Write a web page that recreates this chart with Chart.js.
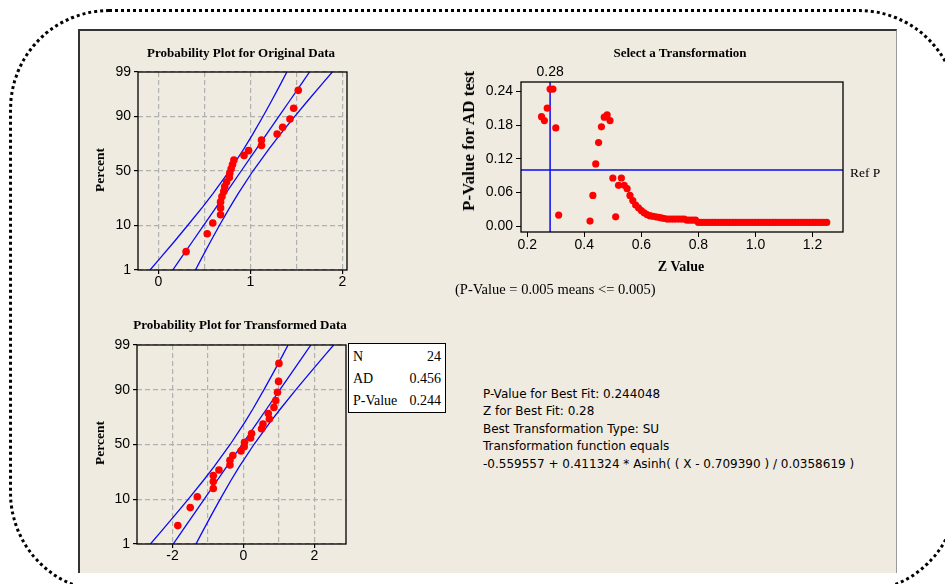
<!DOCTYPE html>
<html>
<head>
<meta charset="utf-8">
<script src="https://cdn.jsdelivr.net/npm/chart.js@4.4.1/dist/chart.umd.min.js"></script>
<style>
  body { margin: 0; width: 945px; height: 584px; background: #fff; position: relative; overflow: hidden; }
  .abs { position: absolute; }
  .ctr { position: absolute; transform: translate(-50%, -50%); white-space: nowrap; }
  .rot { position: absolute; transform: translate(-50%, -50%) rotate(-90deg); white-space: nowrap; }
  .ttl { font: bold 13px "Liberation Serif", serif; color: #000; }
  canvas { position: absolute; }
</style>
</head>
<body>
<div class="abs" style="left:9px;top:9px;width:950px;height:584px;box-sizing:border-box;border:3px dotted #000;border-radius:100px;"></div>
<div class="abs" style="left:78px;top:29px;width:819px;height:544px;box-sizing:border-box;background:#EFEBE1;border-top:2px solid #333;border-left:2px solid #333;border-right:1px solid #9a9a9a;"></div>

<canvas id="origChart" width="270" height="262" style="left:88px;top:38px"></canvas>
<canvas id="zChart" width="450" height="230" style="left:450px;top:60px"></canvas>
<canvas id="transChart" width="270" height="255" style="left:88px;top:320px"></canvas>

<div class="ctr ttl" style="left:241px;top:53px">Probability Plot for Original Data</div>
<div class="ctr ttl" style="left:680px;top:53px">Select a Transformation</div>
<div class="ctr ttl" style="left:240px;top:325px">Probability Plot for Transformed Data</div>
<div class="rot ttl" style="left:100px;top:170px;font-size:13.5px">Percent</div>
<div class="rot ttl" style="left:100px;top:443px;font-size:13.5px">Percent</div>
<div class="rot ttl" style="left:469px;top:141px;font-size:17px">P-Value for AD test</div>
<div class="ctr ttl" style="left:681px;top:267px;font-size:14px">Z Value</div>
<div class="abs" style="left:455px;top:281px;font:14.5px 'Liberation Serif', serif;white-space:nowrap">(P-Value = 0.005 means &lt;= 0.005)</div>

<div id="stats" class="abs" style="left:348px;top:343px;width:98px;height:70px;box-sizing:border-box;background:#fff;border:1.5px solid #000;font:14px 'Liberation Serif', serif;padding:2px 4px 0 4px;"></div>

<div id="fitText" class="abs" style="left:483px;top:386px;font:12px 'DejaVu Sans', sans-serif;line-height:17.4px;white-space:nowrap;color:#000"></div>

<script>
// probability plot positions (percent) shared by both plots, N = 24
const pctPos = [2.9, 7.0, 11.1, 15.2, 19.3, 23.4, 27.5, 31.6, 35.7, 39.8, 43.9, 48.0,
                52.0, 56.1, 60.2, 64.3, 68.4, 72.5, 76.6, 80.7, 84.8, 88.9, 93.0, 97.1];
const origVals = [0.30, 0.53, 0.59, 0.675, 0.675, 0.675, 0.69, 0.71, 0.72, 0.74, 0.77, 0.775,
                  0.79, 0.805, 0.82, 0.93, 0.98, 1.12, 1.12, 1.29, 1.35, 1.43, 1.47, 1.52];
const transVals = [-1.85, -1.50, -1.30, -0.85, -0.85, -0.85, -0.69, -0.38, -0.38, -0.30, -0.07, 0.02,
                   0.03, 0.20, 0.23, 0.51, 0.55, 0.73, 0.70, 0.86, 0.91, 0.96, 0.99, 1.00];

// fitted line and 95% CI bands, read at these percents
const fitPct = [1, 2, 5, 10, 20, 30, 50, 70, 80, 90, 95, 98, 99];
const origMid = [0.155, 0.242, 0.373, 0.489, 0.630, 0.731, 0.899, 1.067, 1.168, 1.309, 1.425, 1.556, 1.643];
const origLo = [-0.092, 0.016, 0.177, 0.316, 0.481, 0.594, 0.771, 0.930, 1.019, 1.136, 1.229, 1.330, 1.396];
const origHi = [0.402, 0.468, 0.569, 0.662, 0.779, 0.868, 1.027, 1.204, 1.317, 1.482, 1.621, 1.782, 1.890];
const transMid = [-1.980, -1.753, -1.412, -1.109, -0.742, -0.477, -0.040, 0.397, 0.662, 1.029, 1.332, 1.673, 1.900];
const transLo = [-2.622, -2.341, -1.924, -1.559, -1.130, -0.833, -0.374, 0.041, 0.274, 0.579, 0.820, 1.085, 1.258];
const transHi = [-1.338, -1.165, -0.900, -0.659, -0.354, -0.121, 0.294, 0.753, 1.050, 1.479, 1.844, 2.261, 2.542];

const pctTicks = [1, 10, 50, 90, 99];
const origXTicks = [0, 0.5, 1, 1.5, 2];
const transXTicks = [-2, -1, 0, 1, 2];

// Johnson transformation search
const zVals = [0.25, 0.26, 0.27, 0.28, 0.29, 0.30, 0.31,
  0.42, 0.43, 0.44, 0.45, 0.46, 0.47, 0.48, 0.49, 0.50, 0.51, 0.52, 0.53, 0.54, 0.55, 0.56, 0.57, 0.58, 0.59,
  0.60, 0.61, 0.62, 0.63, 0.64, 0.65, 0.66, 0.67, 0.68, 0.69, 0.70, 0.71, 0.72, 0.73, 0.74, 0.75, 0.76, 0.77,
  0.78, 0.79, 0.80, 0.81, 0.82, 0.83, 0.84, 0.85, 0.86, 0.87, 0.88, 0.89, 0.90, 0.91, 0.92, 0.93, 0.94, 0.95,
  0.96, 0.97, 0.98, 0.99, 1.00, 1.01, 1.02, 1.03, 1.04, 1.05, 1.06, 1.07, 1.08, 1.09, 1.10, 1.11, 1.12, 1.13,
  1.14, 1.15, 1.16, 1.17, 1.18, 1.19, 1.20, 1.21, 1.22, 1.23, 1.24, 1.25];
const pVals = [0.195, 0.188, 0.210, 0.244, 0.244, 0.175, 0.020,
  0.0095, 0.055, 0.111, 0.149, 0.177, 0.194, 0.198, 0.188, 0.086, 0.017, 0.073, 0.086, 0.073, 0.067, 0.055,
  0.046, 0.038, 0.033, 0.028, 0.024, 0.021, 0.019, 0.018, 0.017, 0.016, 0.015, 0.014,
  0.013, 0.013, 0.013, 0.013, 0.013, 0.013, 0.013, 0.011, 0.011, 0.011, 0.011,
  0.007, 0.007, 0.007, 0.007, 0.007, 0.007, 0.007, 0.007, 0.007, 0.007,
  0.007, 0.007, 0.007, 0.007, 0.007, 0.007, 0.007, 0.007, 0.007, 0.007,
  0.007, 0.007, 0.007, 0.007, 0.007, 0.007, 0.007, 0.007, 0.007, 0.007,
  0.007, 0.007, 0.007, 0.007, 0.007, 0.007, 0.007, 0.007, 0.007, 0.007,
  0.007, 0.007, 0.007, 0.007, 0.007, 0.007];
const pTicks = [0.00, 0.06, 0.12, 0.18, 0.24];
const zTicks = [0.2, 0.4, 0.6, 0.8, 1.0, 1.2];
const bestZ = 0.28;
const refP = 0.10;

const statLabels = ['N', 'AD', 'P-Value'];
const statValues = ['24', '0.456', '0.244'];
const fitLines = [
  'P-Value for Best Fit: 0.244048',
  'Z for Best Fit: 0.28',
  'Best Transformation Type: SU',
  'Transformation function equals',
  '-0.559557 + 0.411324 * Asinh( ( X - 0.709390 ) / 0.0358619 )'
];

// inverse normal cdf, used as the probability-paper scale
function probit(p) {
  const a = [-39.69683028665376, 220.9460984245205, -275.9285104469687, 138.3577518672690, -30.66479806614716, 2.506628277459239];
  const b = [-54.47609879822406, 161.5858368580409, -155.6989798598866, 66.80131188771972, -13.28068155288572];
  const c = [-7.784894002430293e-03, -0.3223964580411365, -2.400758277161838, -2.549732539343734, 4.374664141464968, 2.938163982698783];
  const d = [7.784695709041462e-03, 0.3224671290700398, 2.445134137142996, 3.754408661907416];
  const lo = 0.02425;
  let q, r;
  if (p < lo) {
    q = Math.sqrt(-2 * Math.log(p));
    return (((((c[0]*q+c[1])*q+c[2])*q+c[3])*q+c[4])*q+c[5]) / ((((d[0]*q+d[1])*q+d[2])*q+d[3])*q+1);
  }
  if (p <= 1 - lo) {
    q = p - 0.5; r = q * q;
    return (((((a[0]*r+a[1])*r+a[2])*r+a[3])*r+a[4])*r+a[5])*q / (((((b[0]*r+b[1])*r+b[2])*r+b[3])*r+b[4])*r+1);
  }
  q = Math.sqrt(-2 * Math.log(1 - p));
  return -(((((c[0]*q+c[1])*q+c[2])*q+c[3])*q+c[4])*q+c[5]) / ((((d[0]*q+d[1])*q+d[2])*q+d[3])*q+1);
}

Chart.defaults.color = '#000';
Chart.defaults.font.family = '"Liberation Sans", Arial, sans-serif';
Chart.defaults.font.size = 14;

const framePlugin = {
  id: 'frame',
  afterDraw(chart) {
    const { ctx, chartArea: a } = chart;
    ctx.save();
    ctx.strokeStyle = '#000';
    ctx.lineWidth = 1.3;
    ctx.strokeRect(a.left, a.top, a.right - a.left, a.bottom - a.top);
    ctx.restore();
  }
};

const BLUE = '#0A0AF5';
const RED = '#FF0000';

function lineSet(xs) {
  return {
    type: 'line',
    data: xs.map((x, i) => ({ x: x, y: probit(fitPct[i] / 100) })),
    borderColor: BLUE, borderWidth: 1.3, pointRadius: 0, tension: 0, fill: false
  };
}

function probChart(id, vals, mid, lo, hi, xMin, xMax, xTicks, yWidth, pad) {
  new Chart(document.getElementById(id), {
    type: 'scatter',
    data: {
      datasets: [
        { data: vals.map((v, i) => ({ x: v, y: probit(pctPos[i] / 100) })),
          backgroundColor: RED, borderWidth: 0, pointRadius: 3.8 },
        lineSet(mid), lineSet(lo), lineSet(hi)
      ]
    },
    options: {
      responsive: false, animation: false,
      layout: { padding: pad },
      plugins: { legend: { display: false }, tooltip: { enabled: false } },
      scales: {
        x: {
          min: xMin, max: xMax,
          afterBuildTicks: s => { s.ticks = xTicks.map(v => ({ value: v })); },
          afterFit: s => { s.height = 22; },
          ticks: { padding: 0, maxRotation: 0, callback: (v, i) => (i % 2 === 0 ? String(xTicks[i]) : '') },
          grid: { color: '#B0B0B0', lineWidth: 1.2, tickLength: 4,
                  tickColor: c => (c.index % 2 === 0 ? '#000' : 'rgba(0,0,0,0)') },
          border: { display: false, dash: [5, 3] }
        },
        y: {
          min: probit(0.01), max: probit(0.99),
          afterBuildTicks: s => { s.ticks = pctTicks.map(p => ({ value: probit(p / 100) })); },
          afterFit: s => { s.width = yWidth; },
          ticks: { padding: 3, callback: (v, i) => String(pctTicks[i]) },
          grid: { color: '#B0B0B0', lineWidth: 1.2, tickLength: 4, tickColor: '#000' },
          border: { display: false, dash: [5, 3] }
        }
      }
    },
    plugins: [framePlugin]
  });
}

probChart('origChart', origVals, origMid, origLo, origHi, -0.223, 2.05, origXTicks, 50,
  { left: 0, top: 34, right: 11, bottom: 8 });
probChart('transChart', transVals, transMid, transLo, transHi, -3.0, 2.89, transXTicks, 49,
  { left: 0, top: 25, right: 12, bottom: 9 });

// labels for the reference lines of the Z chart
const refLabels = {
  id: 'refLabels',
  afterDraw(chart) {
    const { ctx, chartArea: a, scales } = chart;
    ctx.save();
    ctx.fillStyle = '#000';
    ctx.font = '14px "Liberation Sans", Arial, sans-serif';
    ctx.textAlign = 'center';
    ctx.textBaseline = 'middle';
    ctx.fillText(bestZ.toFixed(2), scales.x.getPixelForValue(bestZ), a.top - 10);
    ctx.font = '13.5px "Liberation Serif", serif';
    ctx.textAlign = 'left';
    ctx.fillText('Ref P', a.right + 7, scales.y.getPixelForValue(refP) + 3);
    ctx.restore();
  }
};

const zMin = 0.178, zMax = 1.307, pMin = -0.010, pMax = 0.2566;

new Chart(document.getElementById('zChart'), {
  type: 'scatter',
  data: {
    datasets: [
      { data: zVals.map((z, i) => ({ x: z, y: pVals[i] })),
        backgroundColor: RED, borderWidth: 0, pointRadius: 3.6 },
      { type: 'line', data: [{ x: bestZ, y: pMin }, { x: bestZ, y: pMax }],
        borderColor: BLUE, borderWidth: 1.5, pointRadius: 0 },
      { type: 'line', data: [{ x: zMin, y: refP }, { x: zMax, y: refP }],
        borderColor: BLUE, borderWidth: 1.5, pointRadius: 0 }
    ]
  },
  options: {
    responsive: false, animation: false,
    layout: { padding: { left: 0, top: 22, right: 57, bottom: 34 } },
    plugins: { legend: { display: false }, tooltip: { enabled: false } },
    scales: {
      x: {
        min: zMin, max: zMax,
        afterBuildTicks: s => { s.ticks = zTicks.map(v => ({ value: v })); },
        afterFit: s => { s.height = 24; },
        ticks: { padding: 0, maxRotation: 0, callback: v => v.toFixed(1) },
        grid: { drawOnChartArea: false, tickLength: 5, tickColor: '#000' },
        border: { display: false }
      },
      y: {
        min: pMin, max: pMax,
        afterBuildTicks: s => { s.ticks = pTicks.map(v => ({ value: v })); },
        afterFit: s => { s.width = 71; },
        ticks: { padding: 3, callback: v => v.toFixed(2) },
        grid: { drawOnChartArea: false, tickLength: 5, tickColor: '#000' },
        border: { display: false }
      }
    }
  },
  plugins: [framePlugin, refLabels]
});

// stats box and best-fit text
const stats = document.getElementById('stats');
statLabels.forEach((lab, i) => {
  const row = document.createElement('div');
  row.style.cssText = 'display:flex;justify-content:space-between;line-height:22px;';
  row.innerHTML = '<span>' + lab + '</span><span>' + statValues[i] + '</span>';
  stats.appendChild(row);
});
document.getElementById('fitText').innerHTML = fitLines.join('<br>');
</script>
</body>
</html>
